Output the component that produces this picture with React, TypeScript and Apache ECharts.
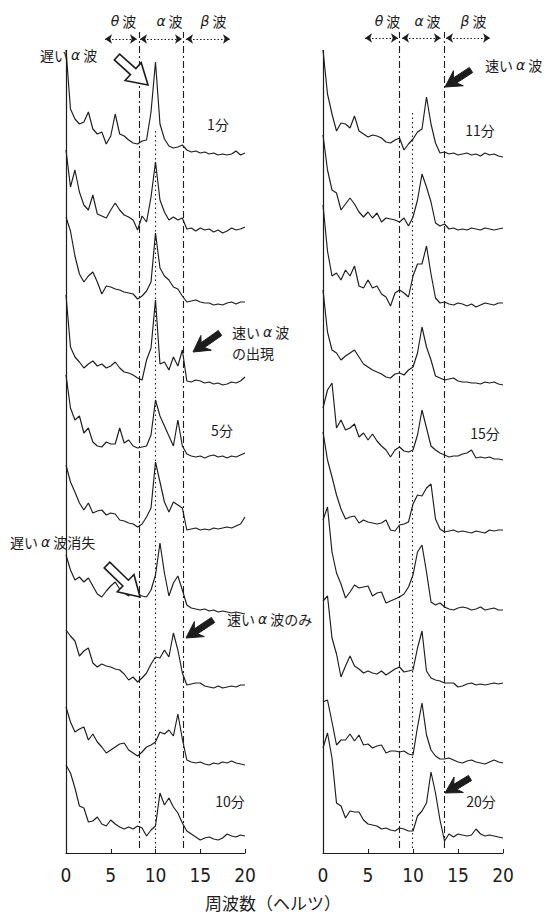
import React, { useEffect, useRef } from "react";
import * as echarts from "echarts";

// Frequency axis (Hz)
const freqs = [0,0.5,1,1.5,2,2.5,3,3.5,4,4.5,5,5.5,6,6.5,7,7.5,8,8.5,9,9.5,10,10.5,11,11.5,12,12.5,13,13.5,14,14.5,15,15.5,16,16.5,17,17.5,18,18.5,19,19.5,20];
const xTicks = [0, 5, 10, 15, 20];

// Left panel spectra (minutes 1-10), amplitude in arbitrary units
const trace01 = [114,55,45,40,42,52,35,30,32,20,28,50,30,28,24,21,20,23,24,52,102,40,25,18,16,17,19,14,12,13,11,12,10,11,9,10,9,10,13,9,11];
const trace02 = [90,53,70,48,35,30,45,26,24,22,30,37,30,25,23,20,10,24,18,43,78,40,28,20,23,20,22,11,12,9,12,10,11,8,10,7,9,12,10,11,13];
const trace03 = [99,85,60,42,34,40,44,34,22,30,29,27,26,24,23,22,17,20,25,34,83,48,40,36,29,27,20,14,15,16,14,13,13,11,12,11,13,14,12,14,14];
const trace04 = [97,45,35,30,24,28,31,26,28,24,26,30,24,20,19,17,14,12,32,44,92,28,30,22,35,26,42,11,10,12,11,9,10,8,9,7,8,10,9,11,15];
const trace05 = [93,60,48,52,35,40,26,22,21,26,24,24,40,25,28,22,20,21,22,33,68,52,42,32,22,48,22,14,12,11,12,10,12,13,11,12,10,12,11,13,15];
const trace06 = [79,62,52,41,34,41,31,33,34,29,31,30,24,23,21,20,17,20,27,36,82,62,42,32,42,39,36,14,15,16,14,15,14,16,15,16,17,16,18,20,27];
const trace07 = [65,50,40,43,38,42,34,26,23,29,34,38,31,27,24,31,26,24,23,30,45,77,47,24,37,44,30,15,12,11,10,11,9,10,8,9,8,7,8,7,6];
const trace08 = [66,60,55,40,45,48,33,29,32,30,29,27,26,22,16,19,14,18,23,32,39,38,46,39,63,46,23,11,12,13,13,10,9,8,10,8,9,10,9,11,11];
const trace09 = [65,50,40,43,45,32,38,30,25,19,22,25,28,29,22,19,16,20,25,27,30,40,38,42,36,58,33,12,10,9,10,8,7,9,8,10,9,11,9,8,7];
const trace10 = [83,75,60,42,40,26,27,31,24,22,28,24,21,19,21,19,22,20,12,18,22,55,43,50,41,35,25,17,14,11,8,10,11,9,8,10,14,12,11,13,12];

// Right panel spectra (minutes 11-20)
const trace11 = [114,70,50,33,41,40,36,48,33,30,27,29,28,26,22,21,24,26,14,20,25,32,35,67,40,21,11,12,10,11,9,10,11,9,10,8,11,9,10,8,7];
const trace12 = [105,70,50,47,30,36,42,36,28,23,28,22,27,18,22,21,20,18,22,14,23,40,66,53,38,17,14,16,11,12,10,11,10,12,11,10,12,11,10,11,12];
const trace13 = [111,65,40,43,36,46,40,50,30,28,36,28,30,22,19,10,23,26,23,19,40,52,52,70,42,18,13,14,12,11,13,12,10,12,9,11,13,12,11,13,13];
const trace14 = [102,60,42,39,32,36,39,42,35,28,25,22,20,18,15,14,18,19,17,22,25,39,65,45,32,16,14,12,13,14,11,10,10,9,9,8,10,9,10,8,7];
const trace15 = [60,78,85,40,48,38,40,44,31,35,28,34,27,22,18,11,18,21,17,16,18,33,58,40,22,18,15,13,11,12,12,14,15,18,10,11,10,11,9,9,8];
const trace16 = [112,84,67,49,35,25,27,28,21,24,22,21,20,21,24,14,13,19,20,22,40,49,48,56,60,25,15,12,13,14,12,13,12,11,13,12,11,14,13,14,14];
const trace17 = [100,113,68,47,36,22,28,35,32,33,34,24,27,28,17,19,21,23,26,33,45,68,75,48,18,15,17,13,11,10,12,13,12,10,11,13,10,11,12,10,10];
const trace18 = [95,100,58,42,19,30,40,30,27,23,25,23,22,25,21,24,27,29,24,25,26,48,65,25,18,16,15,13,13,13,9,10,12,13,11,12,11,12,13,12,13];
const trace19 = [70,72,50,27,32,32,38,31,37,27,28,24,26,27,19,21,21,20,21,18,17,45,69,37,22,16,13,13,14,12,10,9,11,12,10,9,8,10,12,10,9];
const trace20 = [100,115,90,45,42,30,37,36,36,28,24,23,22,19,20,18,17,20,19,17,17,32,37,45,76,55,28,7,14,11,14,13,12,13,19,14,12,13,12,11,10];

const leftTraces = [trace01, trace02, trace03, trace04, trace05, trace06, trace07, trace08, trace09, trace10];
const rightTraces = [trace11, trace12, trace13, trace14, trace15, trace16, trace17, trace18, trace19, trace20];

// Band boundaries (Hz): theta/alpha, 10 Hz reference, alpha/beta
const leftBounds = [8.2, 10.0, 13.05];
const rightBounds = [8.5, 9.9, 13.45];
// Band arrow ranges (Hz)
const leftBandRanges = [[4.36, 7.93], [8.27, 12.96], [13.41, 18.32]];
const rightBandRanges = [[4.67, 8.33], [8.78, 13.1], [13.67, 18.56]];
const bandNames = ["θ", "α", "β"];
const axisTitle = "周波数（ヘルツ）";

// layout constants
const BASE = 5;
const STEP = 76;
const YMAX = 823;
const INK = "#1c1c1c";
const JP = "'Noto Sans CJK JP', 'Noto Sans', sans-serif";

const dashDot = { type: [7, 3, 2, 3], color: INK, width: 1.1 };
const dotted = { type: [1.5, 3], color: INK, width: 1.1 };

function traceSeries(traces: number[][], axis: number) {
  return traces.map((t, k) => ({
    type: "line",
    xAxisIndex: axis,
    yAxisIndex: axis,
    data: freqs.map((f, i) => [f, t[i] + BASE + (9 - k) * STEP]),
    symbol: "none",
    silent: true,
    lineStyle: { color: INK, width: 1.15 },
    z: 3,
  }));
}

function boundaryLines(traces: number[][], bounds: number[], dotTop: number) {
  const top = traces[0][0] + BASE + 9 * STEP;
  return {
    silent: true,
    symbol: "none",
    label: { show: false },
    animation: false,
    data: [
      [{ coord: [0, 0], lineStyle: { type: "solid", color: INK, width: 1.2 } }, { coord: [0, top] }],
      [{ coord: [bounds[0], 5], lineStyle: dashDot }, { coord: [bounds[0], YMAX - 2] }],
      [{ coord: [bounds[1], 5], lineStyle: dotted }, { coord: [bounds[1], dotTop] }],
      [{ coord: [bounds[2], 5], lineStyle: dashDot }, { coord: [bounds[2], YMAX - 2] }],
    ],
  };
}

function bandArrows(ranges: number[][], yVal: number) {
  return {
    silent: true,
    symbol: ["arrow", "arrow"],
    symbolSize: 7,
    label: { show: false },
    animation: false,
    lineStyle: { type: [1.5, 2], color: INK, width: 1.2 },
    data: ranges.map(([a, b]) => [{ coord: [a, yVal] }, { coord: [b, yVal] }]),
  };
}

function label(text: string, x: number, y: number, align = "left", size = 14) {
  return {
    type: "text",
    x,
    y,
    silent: true,
    z: 10,
    style: {
      text,
      fill: INK,
      fontSize: size,
      fontFamily: JP,
      align,
      verticalAlign: "middle",
      rich: {
        g: {
          fontStyle: "italic",
          fontFamily: "'DejaVu Sans', sans-serif",
          fontSize: size,
          fill: INK,
          padding: [0, 3, 0, 3],
        },
      },
    },
  };
}

function arrow(tx: number, ty: number, sx: number, sy: number, hollow: boolean) {
  const dx = tx - sx;
  const dy = ty - sy;
  const L = Math.hypot(dx, dy);
  const ux = dx / L;
  const uy = dy / L;
  const px = -uy;
  const py = ux;
  const headLen = hollow ? 20 : 16;
  const headW = hollow ? 24 : 18;
  const shaftW = hollow ? 8 : 6;
  const notch = hollow ? 0 : 4;
  const pt = (a: number, b: number) => [tx - ux * a + px * b, ty - uy * a + py * b];
  return {
    type: "polygon",
    silent: true,
    z: 10,
    shape: {
      points: [
        pt(0, 0),
        pt(headLen, headW / 2),
        pt(headLen - notch, shaftW / 2),
        pt(L, shaftW / 2),
        pt(L, -shaftW / 2),
        pt(headLen - notch, -shaftW / 2),
        pt(headLen, -headW / 2),
      ],
    },
    style: hollow
      ? { fill: "#fff", stroke: INK, lineWidth: 1.6 }
      : { fill: INK, stroke: INK, lineWidth: 1 },
  };
}

export default function App() {
  const ref = useRef<HTMLDivElement>(null);
  useEffect(() => {
    if (!ref.current) return;
    const chart = echarts.init(ref.current, undefined, { renderer: "svg" });
    const left = traceSeries(leftTraces, 0) as any[];
    const right = traceSeries(rightTraces, 1) as any[];
    left[0].markLine = boundaryLines(leftTraces, leftBounds, 723);
    left[1].markLine = bandArrows(leftBandRanges, 814);
    right[0].markLine = boundaryLines(rightTraces, rightBounds, 743);
    right[1].markLine = bandArrows(rightBandRanges, 815);

    const axisCommon = {
      type: "value",
      min: 0,
      max: 20,
      interval: 5,
      axisLine: { show: true, lineStyle: { color: INK, width: 1.2 } },
      axisTick: { show: true, inside: true, length: 4, lineStyle: { color: INK } },
      splitLine: { show: false },
      axisLabel: {
        color: INK,
        fontSize: 19,
        fontFamily: "'Liberation Sans Narrow', 'DejaVu Sans Condensed', 'Roboto Condensed', 'Liberation Sans', sans-serif",
        margin: 12,
        customValues: xTicks,
      },
    };

    const headerLeft = [122, 168, 212];
    const headerRight = [386, 426, 472];

    chart.setOption({
      animation: false,
      backgroundColor: "#fff",
      grid: [
        { left: 66, width: 179, top: 30, height: YMAX },
        { left: 323, width: 180, top: 30, height: YMAX },
      ],
      xAxis: [
        { ...axisCommon, gridIndex: 0 },
        { ...axisCommon, gridIndex: 1 },
      ],
      yAxis: [
        { type: "value", gridIndex: 0, min: 0, max: YMAX, show: false },
        { type: "value", gridIndex: 1, min: 0, max: YMAX, show: false },
      ],
      series: [...left, ...right],
      graphic: [
        ...bandNames.map((b, i) => label(`{g|${b}}波`, headerLeft[i], 21, "center", 14)),
        ...bandNames.map((b, i) => label(`{g|${b}}波`, headerRight[i], 21, "center", 14)),
        label("遅い{g|α}波", 40, 55),
        label("1分", 218, 124, "center"),
        label("速い{g|α}波", 232, 332),
        label("の出現", 232, 353),
        label("5分", 222, 430, "center"),
        label("遅い{g|α}波消失", 10, 542),
        label("速い{g|α}波のみ", 227, 619),
        label("10分", 230, 801, "center"),
        label("速い{g|α}波", 485, 65),
        label("11分", 480, 130, "center"),
        label("15分", 485, 433, "center"),
        label("20分", 481, 801, "center"),
        label(axisTitle, 273, 902, "center", 17),
        arrow(148, 85, 117, 57, true),
        arrow(140, 597, 107, 565, true),
        arrow(193, 352, 220, 333, false),
        arrow(186, 638, 213, 620, false),
        arrow(445, 87, 471, 70, false),
        arrow(445, 793, 470, 778, false),
      ],
    });
    return () => chart.dispose();
  }, []);
  return (
    <div
      ref={ref}
      style={{ position: "absolute", left: 0, top: 0, width: 546, height: 913, background: "#fff" }}
    />
  );
}
